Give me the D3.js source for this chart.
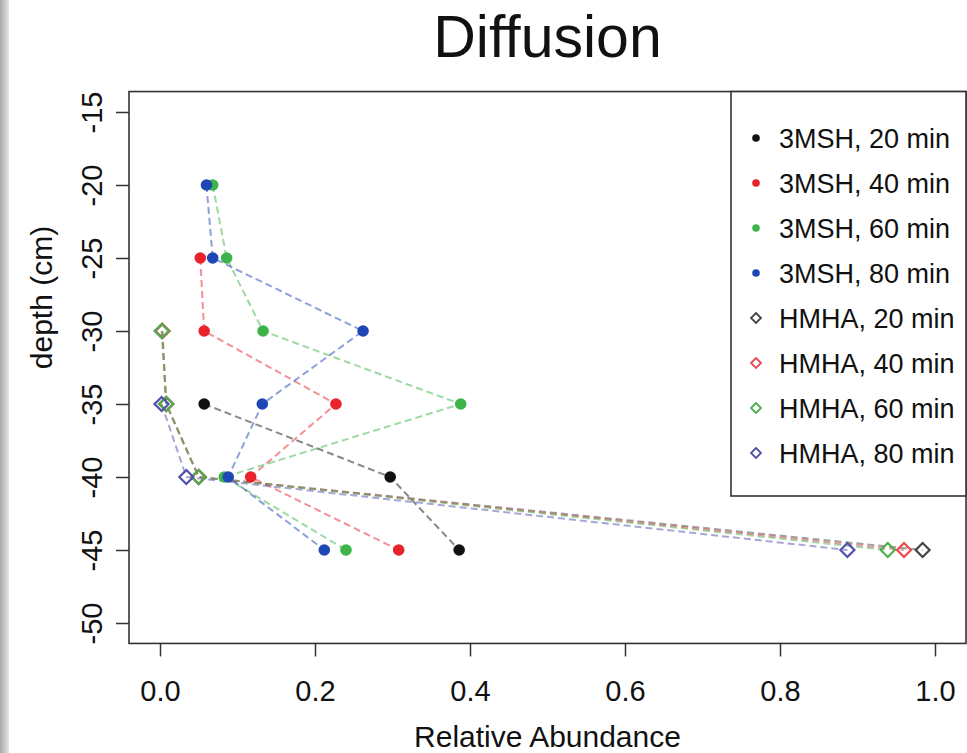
<!DOCTYPE html>
<html>
<head>
<meta charset="utf-8">
<script src="https://cdn.jsdelivr.net/npm/d3@7"></script>
<style>
  body { margin: 0; background: #fff; }
  svg { display: block; font-family: "Liberation Sans", Arial, Helvetica, sans-serif; }
</style>
</head>
<body>
<svg id="chart"></svg>
<script>
const WIDTH = 967;
const HEIGHT = 753;

// depth levels (cm) and relative abundance per series (null = no point)
const depths = [-20, -25, -30, -35, -40, -45];
const seriesNames = ["3MSH, 20 min", "3MSH, 40 min", "3MSH, 60 min", "3MSH, 80 min",
                     "HMHA, 20 min", "HMHA, 40 min", "HMHA, 60 min", "HMHA, 80 min"];
const msh20 = [null, null, null, 0.057, 0.297, 0.386];
const msh40 = [null, 0.052, 0.057, 0.227, 0.117, 0.308];
const msh60 = [0.068, 0.086, 0.133, 0.388, 0.083, 0.240];
const msh80 = [0.060, 0.068, 0.262, 0.132, 0.088, 0.212];
const hmha20 = [null, null, 0.003, 0.008, 0.050, 0.984];
const hmha40 = [null, null, 0.003, 0.008, 0.050, 0.960];
const hmha60 = [null, null, 0.002, 0.008, 0.050, 0.939];
const hmha80 = [null, null, null, 0.002, 0.034, 0.887];

const xTicks = [0, 0.2, 0.4, 0.6, 0.8, 1.0];
const yTicks = [-15, -20, -25, -30, -35, -40, -45, -50];

const pointColors = ["#111111", "#e8232b", "#3cb44a", "#1e46b4"];
const diamondColors = ["#444444", "#e8474d", "#4caf50", "#4f4fb0"];

const series = [msh20, msh40, msh60, msh80, hmha20, hmha40, hmha60, hmha80].map((vals, i) => ({
    name: seriesNames[i],
    shape: i < 4 ? "dot" : "diamond",
    color: i < 4 ? pointColors[i] : diamondColors[i - 4],
    points: vals.map((v, j) => ({ v, depth: depths[j] })).filter(p => p.v !== null)
}));

const svg = d3.select("#chart").attr("width", WIDTH).attr("height", HEIGHT);

// scanned-page grey edge on the left
const grad = svg.append("defs").append("linearGradient").attr("id", "edge");
grad.append("stop").attr("offset", "0%").attr("stop-color", "#a8a8a8");
grad.append("stop").attr("offset", "100%").attr("stop-color", "#e4e4e4");
svg.append("rect").attr("x", 0).attr("y", 0).attr("width", 9).attr("height", HEIGHT).attr("fill", "url(#edge)");

const x = d3.scaleLinear().domain([0, 1]).range([160, 935]);
const y = d3.scaleLinear().domain([-15, -50]).range([112, 623]);

const boxLeft = x(-0.04), boxRight = x(1.04), boxTop = y(-13.6), boxBottom = y(-51.4);

// title
svg.append("text")
    .attr("x", (boxLeft + boxRight) / 2)
    .attr("y", 57)
    .attr("text-anchor", "middle")
    .attr("font-size", 59)
    .attr("fill", "#111")
    .text("Diffusion");

// axes (plain hyphen for negatives, like R)
const xAxis = svg.append("g")
    .attr("transform", `translate(0,${boxBottom})`)
    .call(d3.axisBottom(x).tickValues(xTicks).tickFormat(d => d.toFixed(1)).tickSize(13));
xAxis.selectAll("text").attr("font-size", 29).attr("fill", "#111").attr("y", 58).attr("dy", null);

const yAxis = svg.append("g")
    .attr("transform", `translate(${boxLeft},0)`)
    .call(d3.axisLeft(y).tickValues(yTicks).tickFormat(d => String(d).replace("\u2212", "-")).tickSize(13));
yAxis.selectAll("text")
    .attr("x", null).attr("dy", null)
    .attr("transform", "translate(-27,0) rotate(-90)")
    .attr("text-anchor", "middle")
    .attr("font-size", 29)
    .attr("fill", "#111");

svg.selectAll(".domain").remove();
svg.selectAll(".tick line").attr("stroke", "#333").attr("stroke-width", 1.5);

// plot box
svg.append("rect")
    .attr("x", boxLeft).attr("y", boxTop)
    .attr("width", boxRight - boxLeft).attr("height", boxBottom - boxTop)
    .attr("fill", "none").attr("stroke", "#333").attr("stroke-width", 1.6);

// axis titles
svg.append("text")
    .attr("x", (boxLeft + boxRight) / 2)
    .attr("y", 747)
    .attr("text-anchor", "middle")
    .attr("font-size", 30)
    .attr("fill", "#111")
    .text("Relative Abundance");

svg.append("text")
    .attr("transform", `translate(52,${(boxTop + boxBottom) / 2 - 70}) rotate(-90)`)
    .attr("text-anchor", "middle")
    .attr("font-size", 30)
    .attr("fill", "#111")
    .text("depth (cm)");

// dashed connecting lines
const line = d3.line().x(d => x(d.v)).y(d => y(d.depth));
svg.append("g").selectAll("path")
    .data(series)
    .join("path")
    .attr("d", d => line(d.points))
    .attr("fill", "none")
    .attr("stroke", d => d.color)
    .attr("stroke-opacity", 0.5)
    .attr("stroke-width", 2)
    .attr("stroke-dasharray", "7,4");

// markers
const diamond = s => `M0,${-s}L${s},0L0,${s}L${-s},0Z`;
series.forEach(s => {
    const g = svg.append("g");
    if (s.shape === "dot") {
        g.selectAll("circle").data(s.points).join("circle")
            .attr("cx", d => x(d.v)).attr("cy", d => y(d.depth))
            .attr("r", 5.8).attr("fill", s.color);
    } else {
        g.selectAll("path").data(s.points).join("path")
            .attr("transform", d => `translate(${x(d.v)},${y(d.depth)})`)
            .attr("d", diamond(7))
            .attr("fill", "none").attr("stroke", s.color).attr("stroke-width", 2.2);
    }
});

// legend
const legend = svg.append("g");
legend.append("rect")
    .attr("x", 731).attr("y", boxTop)
    .attr("width", boxRight - 731).attr("height", 496 - boxTop)
    .attr("fill", "#fff").attr("stroke", "#333").attr("stroke-width", 1.6);

const items = legend.selectAll("g.item")
    .data(series)
    .join("g")
    .attr("class", "item")
    .attr("transform", (d, i) => `translate(0,${138 + i * 45})`);

items.each(function(d) {
    const g = d3.select(this);
    if (d.shape === "dot") {
        g.append("circle").attr("cx", 756).attr("cy", 0).attr("r", 3.8).attr("fill", d.color);
    } else {
        g.append("path").attr("transform", "translate(756,0)").attr("d", diamond(5))
            .attr("fill", "none").attr("stroke", d.color).attr("stroke-width", 1.8);
    }
});

items.append("text")
    .attr("x", 779)
    .attr("y", 10)
    .attr("font-size", 27)
    .attr("fill", "#111")
    .text(d => d.name);
</script>
</body>
</html>
